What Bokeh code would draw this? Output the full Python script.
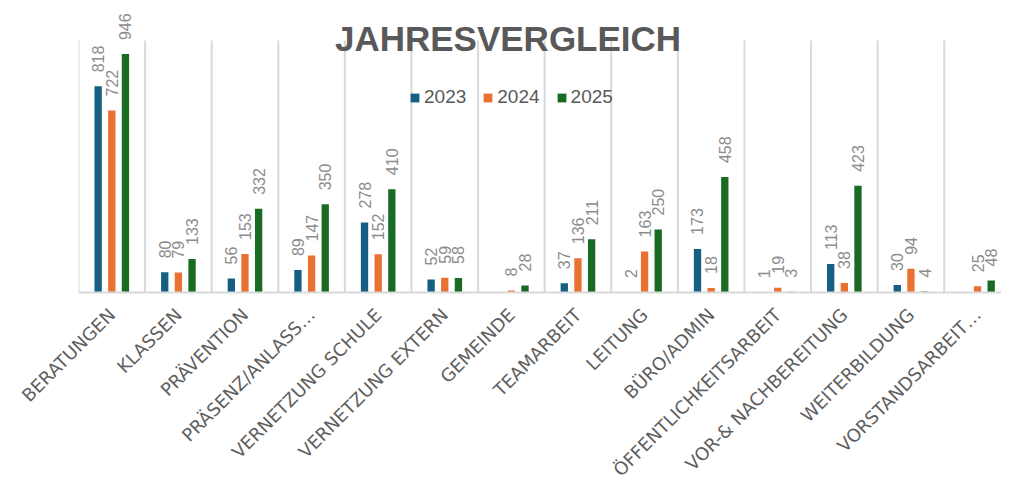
import math
from bokeh.plotting import figure
from bokeh.models import ColumnDataSource, FixedTicker, Range1d, Label, LabelSet, Legend, LegendItem
from bokeh.embed import file_html
from bokeh.resources import INLINE
from bokeh.core.properties import value

categories = ["BERATUNGEN", "KLASSEN", "PRÄVENTION", "PRÄSENZ/ANLASS…", "VERNETZUNG SCHULE",
              "VERNETZUNG EXTERN", "GEMEINDE", "TEAMARBEIT", "LEITUNG", "BÜRO/ADMIN",
              "ÖFFENTLICHKEITSARBEIT", "VOR-& NACHBEREITUNG", "WEITERBILDUNG", "VORSTANDSARBEIT…"]
years = ["2023", "2024", "2025"]
values_2023 = [818, 80, 56, 89, 278, 52, None, 37, 2, 173, 1, 113, 30, None]
values_2024 = [722, 79, 153, 147, 152, 59, 8, 136, 163, 18, 19, 38, 94, 25]
values_2025 = [946, 133, 332, 350, 410, 58, 28, 211, 250, 458, 3, 423, 4, 48]
colors = ["#156082", "#E97132", "#196B24"]
AXIS_MAX = 1000

ncat = len(categories)
FRAME_H = 292.7      # frame spans to top of canvas so texts above the axis max are not clipped
PLOT_H = 252.7       # pixel height of the value axis 0..AXIS_MAX
p = figure(width=1001, height=490, x_range=Range1d(0, 13.86),
           y_range=Range1d(0, AXIS_MAX * FRAME_H / PLOT_H),
           output_backend="svg", toolbar_location=None, y_axis_location=None,
           min_border_left=78, min_border_right=0, min_border_top=0, min_border_bottom=197)
p.outline_line_color = None
p.background_fill_color = "white"
p.border_fill_color = "white"
p.ygrid.grid_line_color = None
p.xgrid.grid_line_color = None

# category separators (vertical gridlines up to the axis maximum)
bounds = list(range(ncat + 1))
p.segment(x0=bounds, y0=[0] * len(bounds), x1=bounds, y1=[AXIS_MAX] * len(bounds),
          line_color="#d9d9d9", line_width=2)

offsets = [-0.205, 0.0, 0.205]
items = []
for vals, off, col, yr in zip([values_2023, values_2024, values_2025], offsets, colors, years):
    src = ColumnDataSource(dict(
        x=[i + 0.5 + off for i in range(ncat)],
        top=[float("nan") if v is None else v for v in vals],
        ly=[0 if v is None else v for v in vals],
        label=["" if v is None else str(v) for v in vals],
    ))
    r = p.vbar(x="x", top="top", width=0.11, source=src, fill_color=col, line_color=None)
    p.add_layout(LabelSet(x="x", y="ly", text="label", source=src, angle=math.pi / 2,
                          text_align="left", text_baseline="middle", y_offset=14,
                          text_font_size="16px", text_color="#8c8c8c",
                          text_font=value("Liberation Sans")))
    items.append(LegendItem(label=yr, renderers=[r]))

legend = Legend(items=items, orientation="horizontal", location=(331, 184),
                glyph_width=11, glyph_height=11, label_standoff=4, spacing=16,
                padding=0, margin=0, border_line_color=None, background_fill_alpha=0,
                label_text_font_size="19px", label_text_color="#595959",
                label_text_font="Liberation Sans")
p.add_layout(legend)

p.add_layout(Label(x=6.45, y=1006, text="JAHRESVERGLEICH", text_align="center",
                   text_baseline="alphabetic", text_font_size="35px", text_font_style="bold",
                   text_color="#595959", text_font="Liberation Sans"))

p.xaxis.ticker = FixedTicker(ticks=[i + 0.5 for i in range(ncat)])
p.xaxis.major_label_overrides = {i + 0.5: c for i, c in enumerate(categories)}
p.xaxis.major_label_orientation = math.pi / 4
p.xaxis.major_tick_line_color = None
p.xaxis.minor_tick_line_color = None
p.xaxis.axis_line_color = "#d9d9d9"
p.xaxis.axis_line_width = 2
p.xaxis.major_label_text_font = "DejaVu Sans"
p.xaxis.major_label_text_font_size = "18px"
p.xaxis.major_label_text_color = "#5f5f5f"
p.xaxis.major_label_standoff = 13

open("out.html", "w").write(file_html(p, INLINE))
